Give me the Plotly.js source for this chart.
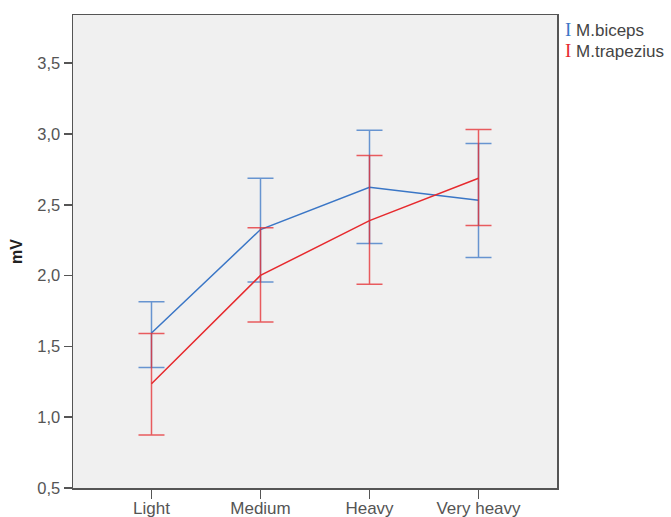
<!DOCTYPE html>
<html>
<head>
<meta charset="utf-8">
<script src="https://cdn.plot.ly/plotly-3.0.1.min.js"></script>
<style>html,body{margin:0;padding:0;background:#fff;}#chart{width:671px;height:517px;}</style>
</head>
<body>
<div id="chart"></div>
<script>
const categories = ["Light", "Medium", "Heavy", "Very heavy"];
const seriesNames = ["M.biceps", "M.trapezius"];
const bicepsMean = [1.594, 2.325, 2.624, 2.532];
const bicepsUpper = [1.815, 2.687, 3.027, 2.933];
const bicepsLower = [1.351, 1.955, 2.226, 2.127];
const trapeziusMean = [1.236, 2.001, 2.388, 2.687];
const trapeziusUpper = [1.591, 2.337, 2.848, 3.032];
const trapeziusLower = [0.875, 1.672, 1.938, 2.353];
const yTicks = [0.5, 1.0, 1.5, 2.0, 2.5, 3.0, 3.5];

const blue = "#3a76c6";
const red = "#e62a2e";

function mkTrace(name, mean, up, lo, color, errColor) {
  return {
    type: "scatter", mode: "lines", name: name,
    x: categories, y: mean,
    line: {color: color, width: 1.5},
    error_y: {
      type: "data", symmetric: false,
      array: up.map((u, i) => u - mean[i]),
      arrayminus: lo.map((l, i) => mean[i] - l),
      color: errColor, thickness: 1.5, width: 13
    },
    showlegend: false, hoverinfo: "skip"
  };
}

const data = [
  mkTrace(seriesNames[0], bicepsMean, bicepsUpper, bicepsLower, blue, "rgba(58,118,198,0.75)"),
  mkTrace(seriesNames[1], trapeziusMean, trapeziusUpper, trapeziusLower, red, "rgba(230,42,46,0.75)")
];

const FF = "Liberation Sans, Arial, sans-serif";

function legendText(color, name) {
  return "<span style='color:" + color + ";font-family:Liberation Serif;font-size:19px'>I</span> " + name;
}

const layout = {
  width: 671, height: 517,
  margin: {l: 73, r: 114, t: 15, b: 29},
  paper_bgcolor: "#ffffff",
  plot_bgcolor: "#f0f0f0",
  separators: ",.",
  xaxis: {
    type: "category", range: [-0.72, 3.72],
    showgrid: false, zeroline: false,
    showline: true, linecolor: "#555", linewidth: 1.5, mirror: true,
    ticks: "outside", ticklen: 9, tickwidth: 1.5, tickcolor: "#555",
    ticklabelstandoff: -5,
    tickfont: {family: FF, size: 17, color: "#555"}
  },
  yaxis: {
    range: [0.5, 3.84], tickvals: yTicks, tickformat: ".1f",
    showgrid: false, zeroline: false,
    showline: true, linecolor: "#555", linewidth: 1.5, mirror: true,
    ticks: "outside", ticklen: 8, tickwidth: 1.5, tickcolor: "#555",
    tickfont: {family: FF, size: 16.5, color: "#555"},
    title: {text: "<b>mV</b>", font: {family: FF, size: 16, color: "#222"}, standoff: 10}
  },
  annotations: [
    {xref: "paper", yref: "paper", x: 1.012, y: 0.970, xanchor: "left", yanchor: "middle", showarrow: false,
     text: legendText(blue, seriesNames[0]),
     font: {family: FF, size: 17, color: "#444"}},
    {xref: "paper", yref: "paper", x: 1.012, y: 0.926, xanchor: "left", yanchor: "middle", showarrow: false,
     text: legendText(red, seriesNames[1]),
     font: {family: FF, size: 17, color: "#444"}}
  ]
};

Plotly.newPlot("chart", data, layout, {displayModeBar: false, staticPlot: true});
</script>
</body>
</html>
